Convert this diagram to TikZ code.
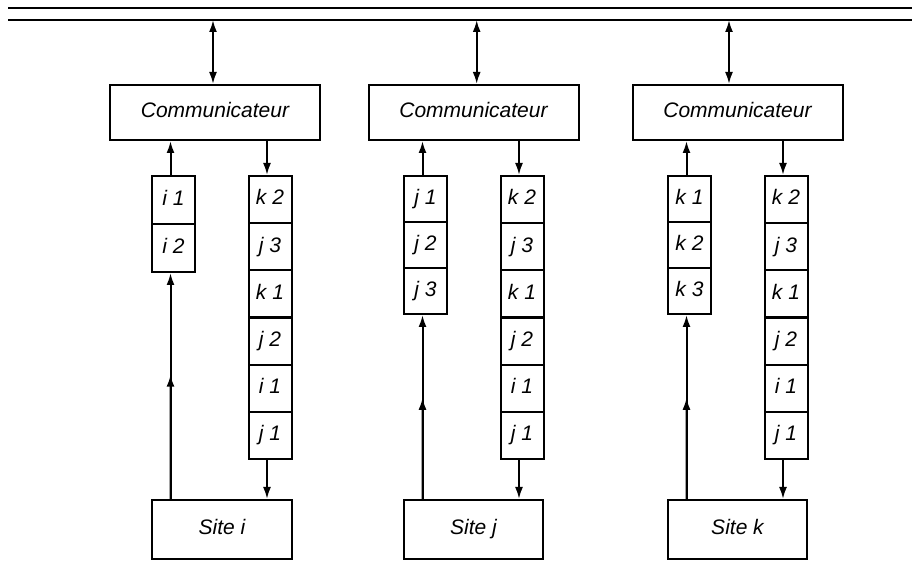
\documentclass[tikz,border=0pt]{standalone}
\usepackage{fontspec}
\setmainfont{Liberation Sans}
\usetikzlibrary{arrows.meta,calc}

\tikzset{
  box/.style={draw,line width=1pt,rectangle,inner sep=0pt,text height=7.5pt,text depth=2.2pt,
    font=\fontsize{10.5}{12}\selectfont\itshape},
  flow/.style={->,line width=1pt},
  >={Latex[length=6pt,width=4pt]}
}

\begin{document}
\begin{tikzpicture}[x=0.5pt,y=-0.5pt]
\useasboundingbox (0,0) rectangle (912,561);
% bus
\draw[line width=1pt] (8,8) -- (912,8);
\draw[line width=1pt] (8,20) -- (912,20);

% one column per site
\foreach \s/\cx/\bx/\lx/\rx/\sx/\sw/\nl/\lh in {
    i/215/213/173.5/270/222/140/2/48,
    j/473.5/476.7/425.5/522/473.5/139/3/46,
    k/737.5/729/689.5/786/737.5/139/3/46} {
  \node[box,minimum width=105pt,minimum height=27.5pt] (comm-\s) at (\cx,112.5) {Communicateur};
  \node[box,minimum width=\sw*0.5pt,minimum height=29.5pt] (site-\s) at (\sx,529.5) {Site \s};
  % local queue
  \foreach \n in {1,...,\nl} {
    \node[box,minimum width=21.5pt,minimum height=\lh*0.5pt] (qa-\s-\n) at (\lx,{176+\lh*(\n-0.5)}) {\s\ \n};
  }
  % incoming queue
  \foreach \t [count=\n] in {k 2,j 3,k 1,j 2,i 1,j 1} {
    \node[box,minimum width=21.5pt,minimum height=23.6pt] (qb-\s-\n) at (\rx,{176+47.17*(\n-0.5)}) {\t};
  }
  \coordinate (bus-\s) at (\bx,20);
  \coordinate (up-\s) at ({\lx-3},0);
  \coordinate (dn-\s) at ({\rx-3},0);
  \draw[<->,line width=1pt] (bus-\s) -- (bus-\s |- comm-\s.north);
  \draw[flow] (qa-\s-1.north -| up-\s) -- (comm-\s.south -| up-\s);
  \draw[flow] (comm-\s.south -| dn-\s) -- (qb-\s-1.north -| dn-\s);
  \draw[flow] (site-\s.north -| up-\s) -- (qa-\s-\nl.south -| up-\s);
  \coordinate (mid-\s) at ($(site-\s.north -| up-\s)!0.55!(qa-\s-\nl.south -| up-\s)$);
  \draw[flow] (site-\s.north -| up-\s) -- (mid-\s);
  \draw[flow] (qb-\s-6.south -| dn-\s) -- (site-\s.north -| dn-\s);
}
\end{tikzpicture}
\end{document}
